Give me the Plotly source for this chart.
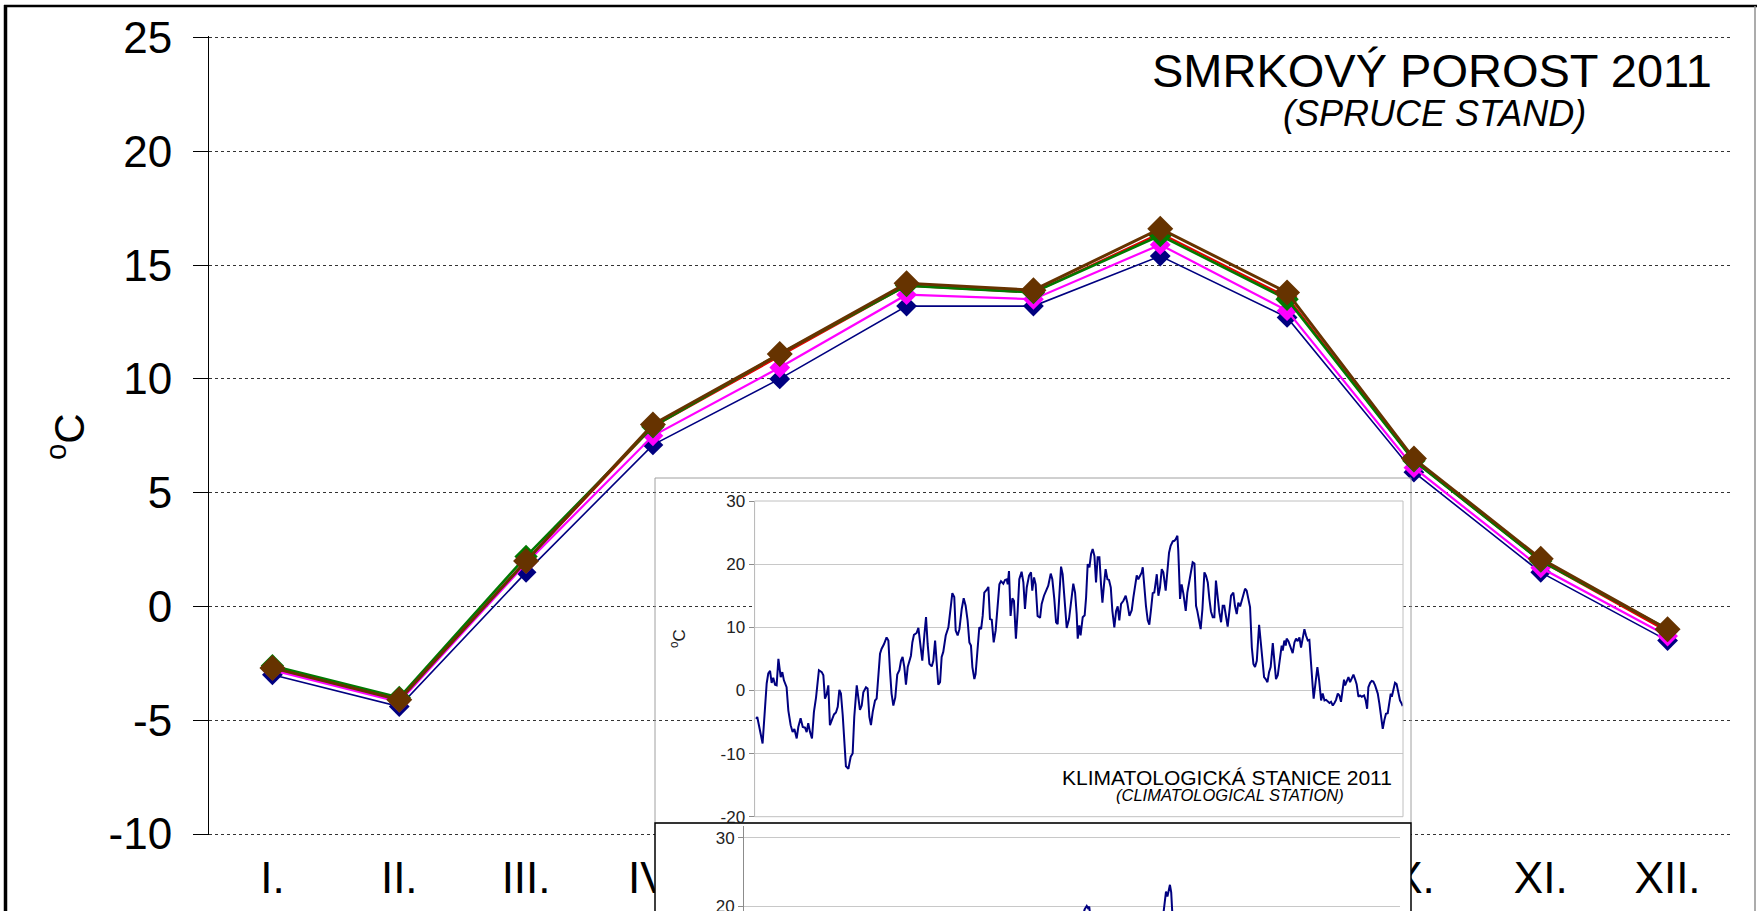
import plotly.graph_objects as go

W, H = 1757, 911

# ---------------- data ----------------
months = ["I.", "II.", "III.", "IV.", "V.", "VI.", "VII.", "VIII.", "IX.", "X.", "XI.", "XII."]

temp_navy = [-3.0, -4.4, 1.5, 7.1, 10.0, 13.2, 13.2, 15.4, 12.7, 5.9, 1.5, -1.5]
temp_magenta = [-2.8, -4.2, 1.9, 7.5, 10.5, 13.7, 13.5, 15.9, 13.0, 6.1, 1.7, -1.3]
temp_red = [-2.7, -4.1, 2.0, 7.9, 11.0, 14.1, 13.8, 16.4, 13.6, 6.4, 2.0, -1.1]
temp_green = [-2.6, -4.0, 2.2, 7.9, 11.1, 14.1, 13.8, 16.3, 13.5, 6.4, 2.0, -1.0]
temp_brown = [-2.7, -4.1, 2.0, 8.0, 11.1, 14.2, 13.9, 16.6, 13.8, 6.5, 2.1, -1.0]

main_ticks = [-10, -5, 0, 5, 10, 15, 20, 25]
main_tick_text = ["-10", "-5", "0", "5", "10", "15", "20", "25"]
inset_ticks = [-20, -10, 0, 10, 20, 30]
inset_tick_text = ["-20", "-10", "0", "10", "20", "30"]

# climatological station, daily means (vertices)
clim_day = [
    1.3, 2.0, 3.5, 5.0, 6.4, 7.3, 8.2, 9.2, 10.1, 11.0, 12.0, 12.9, 13.9, 15.2, 16.1, 17.0,
    18.5, 19.5, 20.8, 21.9, 22.9, 24.2, 25.1, 26.4, 27.6, 28.9, 29.8, 30.7, 31.7, 32.8, 33.9,
    35.1, 36.7, 38.3, 39.2, 40.1, 41.1, 42.0, 42.9, 44.3, 45.2, 46.3, 47.3, 48.2, 49.1, 50.1,
    51.0, 51.9, 53.3, 54.6, 55.7, 56.6, 58.0, 58.9, 59.8, 60.8, 61.7, 63.2, 64.1, 65.1, 66.0,
    67.0, 68.3, 69.2, 70.1, 71.1, 72.0, 73.3, 74.8, 75.8, 76.7, 77.6, 78.6, 79.7, 80.8, 82.0,
    82.9, 83.8, 84.8, 85.7, 86.7, 87.6, 88.5, 89.3, 90.2, 91.7, 92.7,
    94.0, 94.9, 96.1, 97.0, 97.9, 98.9, 100.2, 101.1, 102.1, 103.0, 103.9, 104.9, 105.8, 106.7,
    108.1, 109.6, 110.9, 111.8, 112.9, 113.7, 114.8, 115.8, 117.1, 118.2, 119.3, 120.4, 121.4,
    122.3, 123.1, 124.2, 124.9, 126.1, 127.0, 128.0, 128.9, 129.8, 131.1, 132.1, 133.0, 134.0,
    135.1, 136.2, 137.3, 138.3, 139.2, 140.5, 141.5, 142.4, 143.0, 143.7, 144.6, 145.6, 146.5,
    147.6, 148.6, 149.5, 150.8, 151.8, 152.7, 153.7, 155.0, 156.1, 156.8, 157.8, 158.7, 159.8,
    161.2, 162.1, 163.4, 164.5, 165.8, 167.2, 168.1, 169.2, 170.2, 171.1, 172.0, 173.0, 173.9,
    174.9, 176.2, 177.5, 178.6, 179.9, 180.9, 181.8, 182.4, 183.3, 184.0,
    185.2, 186.3, 187.1, 188.0, 189.0, 189.9, 190.8, 191.8, 192.7, 193.6, 194.6, 195.5, 196.3,
    197.2, 198.1, 199.1, 200.0, 201.0, 201.9, 203.0, 204.0, 204.9, 205.8, 206.8, 208.1, 209.4,
    210.3, 211.5, 212.8, 213.7, 214.7, 215.6, 216.5, 217.5, 218.4, 219.0, 219.9, 220.8, 221.8,
    222.7, 223.7, 224.6, 225.5, 226.9, 227.8, 228.7, 229.7, 230.6, 231.9, 232.9, 233.8, 234.7,
    235.9, 236.8, 237.5, 238.5, 239.0, 240.0, 240.9, 241.9, 243.2, 244.1, 245.6, 247.1, 248.1,
    249.0, 249.7, 250.7, 251.6, 252.6, 253.7, 254.6, 255.6, 256.5, 257.4, 258.4, 259.3, 260.2,
    261.2, 262.1, 263.1, 264.0, 264.9, 265.9, 266.8, 267.8, 268.7, 270.0, 270.9, 271.9, 272.8,
    273.8, 274.7, 275.6, 276.6,
    277.5, 278.9, 279.4, 280.4, 281.3, 282.2, 283.2, 284.5, 285.4, 286.4, 287.3, 288.2, 289.2,
    290.1, 291.0, 292.2, 293.1, 294.0, 295.0, 295.9, 297.2, 297.8, 298.7, 299.5, 300.0, 301.0,
    302.3, 303.4, 304.4, 305.3, 306.2, 307.2, 308.1, 309.1, 310.0, 310.9, 311.9, 312.8, 313.7,
    314.7, 315.2, 316.4, 317.3, 318.3, 319.4, 320.3, 321.3, 322.2, 323.1, 324.1, 325.0, 326.0,
    326.9, 327.8, 328.8, 329.7, 330.6, 331.6, 332.3, 332.9, 333.8, 334.8, 335.7, 336.6, 337.6,
    338.5, 339.4, 340.4, 341.3, 342.3, 343.6, 344.5, 345.3, 346.0, 347.0, 347.9, 348.8, 349.8,
    351.3, 352.2, 353.1, 354.1, 355.0, 355.9, 356.9, 357.8, 358.6, 359.2, 360.1, 361.0, 361.9,
    362.9, 363.8, 364.8, 365.3,
]
clim_temp = [
    -4.5, -4.2, -6.3, -8.4, -2.6, 1.1, 2.7, 3.1, 1.2, 2.0, 0.9, 0.8, 5.0, 2.1, 2.9, 1.6,
    0.5, -3.2, -5.5, -6.6, -6.1, -7.6, -5.8, -4.4, -5.8, -5.9, -6.6, -5.2, -6.6, -7.6, -3.4,
    -1.1, 3.2, 2.9, 2.4, -1.3, -0.6, 0.8, -5.5, -4.5, -3.8, -3.5, -2.6, 0.1, -0.5, -3.9,
    -7.9, -12.0, -12.4, -10.5, -10.0, -4.2, 0.8, -1.3, -3.1, -2.4, -0.3, 0.5, 0.3, -4.2, -5.5,
    -3.4, -1.6, -1.3, 2.1, 5.8, 6.6, 7.3, 8.4, 7.9, 3.2, -0.5, -2.4, -1.1, 2.5, 3.2,
    4.7, 5.3, 3.7, 0.9, 3.7, 4.5, 5.5, 7.6, 8.8, 9.1, 9.9,
    6.8, 4.7, 8.9, 11.6, 7.4, 4.2, 3.8, 4.7, 7.9, 3.7, 0.9, 1.3, 5.3, 6.1,
    8.7, 10.0, 13.7, 15.4, 14.8, 9.5, 8.7, 9.7, 12.9, 14.6, 13.4, 11.1, 7.6,
    7.1, 3.7, 1.8, 2.6, 6.6, 10.0, 9.7, 11.8, 15.5, 15.9, 16.4, 11.3, 11.2,
    7.6, 9.5, 13.9, 16.8, 17.3, 16.9, 17.5, 17.6, 16.8, 18.9, 11.8, 14.6, 14.2,
    8.2, 12.6, 17.6, 18.8, 17.1, 12.9, 16.3, 18.2, 18.7, 15.8, 17.9, 16.8, 11.8,
    11.5, 13.7, 15.0, 15.8, 16.6, 18.5, 17.6, 14.5, 10.8, 10.5, 15.3, 19.6, 18.4,
    13.9, 9.9, 11.3, 14.2, 16.9, 15.5, 12.1, 8.2, 10.3, 8.7,
    11.6, 11.9, 14.7, 20.0, 19.5, 21.6, 22.4, 21.3, 17.1, 21.1, 21.1, 16.8, 13.9,
    16.8, 19.2, 17.6, 17.5, 16.3, 12.6, 10.0, 12.6, 13.3, 11.1, 13.7, 14.2, 15.0,
    13.9, 11.8, 12.7, 14.7, 16.6, 18.2, 17.6, 18.3, 18.7, 19.5, 15.8, 13.4, 11.1,
    10.4, 12.9, 15.4, 15.5, 18.4, 15.0, 16.3, 19.2, 18.7, 15.8, 18.4, 21.8, 22.9,
    23.6, 23.7, 23.9, 24.5, 22.1, 14.5, 16.8, 15.3, 12.6, 15.5, 17.9, 20.3, 20.1,
    13.4, 12.6, 11.1, 9.7, 12.9, 18.7, 18.2, 17.1, 14.5, 12.5, 11.6, 11.6, 17.4,
    14.7, 12.4, 10.8, 13.4, 13.4, 11.6, 10.1, 12.6, 15.0, 15.5, 13.4, 12.1, 13.9,
    13.3, 14.2, 15.0, 16.1,
    15.8, 13.4, 13.2, 6.8, 4.2, 3.7, 4.7, 10.4, 7.4, 3.7, 2.1, 1.8, 1.3,
    2.9, 3.7, 7.5, 4.2, 1.8, 2.4, 4.7, 7.1, 6.3, 7.9, 7.1, 8.2, 7.8,
    6.6, 5.9, 7.6, 8.2, 7.8, 8.4, 6.8, 8.7, 9.7, 8.7, 7.9, 8.0, 3.7,
    0.5, -1.3, 2.1, 3.7, 1.6, -1.6, -0.5, -1.6, -1.5, -1.8, -2.0, -1.8, -2.4,
    -2.0, -1.5, -0.5, -0.8, -1.8, 0.3, 1.7, 0.8, 1.6, 2.1, 1.3, 1.8, 2.5,
    1.8, 1.0, -1.0, -0.8, -1.0, -0.8, -1.6, -2.9, 0.5, 1.2, 1.5, 1.4, 0.8,
    -0.5, -2.1, -3.9, -6.1, -4.7, -3.7, -3.6, -1.8, -0.5, -1.0, 0.3, 1.2, 1.0,
    -0.3, -1.6, -2.1, -2.5,
]

# second station (lower inset): only the parts that rise into view
lower_day = [186.0, 188.5, 190.0, 191.2, 191.9, 192.6, 194.0, 230.0, 233.9, 235.3, 236.1, 237.5, 238.2, 238.9, 242.0]
lower_temp = [15.0, 18.0, 19.5, 20.0, 19.7, 19.9, 16.5, 15.0, 19.0, 22.1, 21.4, 23.1, 22.0, 18.5, 14.0]


# ---------------- helpers (layout only) ----------------
def fx(px):
    return px / W


def fy(py):
    return 1 - py / H


FONT = "Liberation Sans, Arial, sans-serif"

fig = go.Figure()

main_series = [
    ("navy", temp_navy, "#000080", 1.6, 16),
    ("magenta", temp_magenta, "#FF00FF", 2.2, 16),
    ("red", temp_red, "#E00000", 2.2, 16),
    ("green", temp_green, "#007A00", 2.6, 18),
    ("brown", temp_brown, "#663300", 3.0, 20),
]
for name, vals, color, lw, ms in main_series:
    fig.add_trace(go.Scatter(
        x=months, y=vals, name=name, mode="lines+markers",
        line=dict(color=color, width=lw),
        marker=dict(symbol="diamond", size=ms, color=color),
        xaxis="x", yaxis="y", showlegend=False, cliponaxis=False,
    ))

fig.add_trace(go.Scatter(
    x=clim_day, y=clim_temp, mode="lines", line=dict(color="#000080", width=2),
    xaxis="x3", yaxis="y3", showlegend=False,
))
fig.add_trace(go.Scatter(x=[], y=[], xaxis="x5", yaxis="y5", showlegend=False))
fig.add_trace(go.Scatter(
    x=lower_day, y=lower_temp, mode="lines", line=dict(color="#000080", width=2),
    xaxis="x6", yaxis="y6", showlegend=False,
))

# main plot geometry
main_dom_x = [fx(209), fx(1731)]
main_dom_y = [fy(835.4), fy(36.2)]
yr = [-10.06, 25.06]
zero_pos = main_dom_y[0] + (0 - yr[0]) / (yr[1] - yr[0]) * (main_dom_y[1] - main_dom_y[0])

# upper inset geometry
in_dom_x = [fx(754.6), fx(1403)]
in_dom_y = [fy(816.7), fy(501)]
in_yr = [-20, 30]
in_zero = in_dom_y[0] + (0 - in_yr[0]) / (in_yr[1] - in_yr[0]) * (in_dom_y[1] - in_dom_y[0])

hidden = dict(showline=False, showticklabels=False, ticks="", showgrid=False, zeroline=False,
              automargin=False)

fig.update_layout(
    template="none",
    width=W, height=H, autosize=False,
    margin=dict(l=0, r=0, t=0, b=0, pad=0),
    paper_bgcolor="white", plot_bgcolor="white",
    font=dict(family=FONT, color="black"),
    showlegend=False,
    xaxis=dict(
        domain=main_dom_x, anchor="y", type="category",
        categoryorder="array", categoryarray=months, range=[-0.5, 11.5],
        showline=False, ticks="", showgrid=False, zeroline=False, automargin=False,
        tickfont=dict(size=44, color="black"), ticklabelstandoff=13,
    ),
    xaxis2=dict(
        overlaying="x", anchor="free", position=zero_pos, type="linear",
        range=[-0.5, 11.5], tickmode="linear", tick0=0.5, dtick=1,
        ticks="outside", ticklen=12, tickwidth=2, tickcolor="#7F7F7F",
        showline=True, linecolor="#7F7F7F", linewidth=2, automargin=False,
        showticklabels=False, showgrid=False, zeroline=False,
    ),
    yaxis=dict(
        domain=main_dom_y, anchor="x", range=yr,
        tickmode="array", tickvals=main_ticks, ticktext=main_tick_text,
        showgrid=True, gridcolor="#333333", griddash="dot", gridwidth=1,
        showline=True, linecolor="black", linewidth=1, automargin=False,
        ticks="outside", ticklen=15, tickcolor="black", tickwidth=1,
        tickfont=dict(size=44, color="black"), zeroline=False, ticklabelstandoff=12,
    ),
    xaxis3=dict(domain=in_dom_x, anchor="y3", range=[0.5, 365.5], **hidden),
    yaxis3=dict(
        domain=in_dom_y, anchor="x3", range=in_yr,
        tickmode="array", tickvals=inset_ticks, ticktext=inset_tick_text,
        showgrid=True, gridcolor="#C8C8C8", gridwidth=1, automargin=False,
        showline=True, linecolor="#8C8C8C", linewidth=1,
        ticks="outside", ticklen=5, tickcolor="#8C8C8C",
        tickfont=dict(size=17, color="#222222"), zeroline=False,
    ),
    xaxis4=dict(
        overlaying="x3", anchor="free", position=in_zero, type="linear",
        range=[0.5, 365.5], tickmode="linear", tick0=0.5, dtick=20,
        ticks="outside", ticklen=5, tickcolor="#7F7F7F", tickwidth=1,
        showline=True, linecolor="#7F7F7F", linewidth=1.5, automargin=False,
        showticklabels=False, showgrid=False, zeroline=False,
    ),
    xaxis5=dict(domain=[fx(655), fx(1411)], anchor="y5", range=[0, 1], **hidden),
    yaxis5=dict(domain=[0, fy(823)], anchor="x5", range=[0, 1], **hidden),
    xaxis6=dict(domain=[fx(744), fx(1400)], anchor="y6", range=[0.5, 365.5], **hidden),
    yaxis6=dict(
        domain=[0, fy(826)], anchor="x6", range=[19.27, 31.71],
        tickmode="array", tickvals=[20, 30], ticktext=["20", "30"],
        showgrid=True, gridcolor="#C8C8C8", gridwidth=1, automargin=False,
        showline=True, linecolor="#8C8C8C", linewidth=1,
        ticks="outside", ticklen=5, tickcolor="#8C8C8C", ticklabeloverflow="allow",
        tickfont=dict(size=17, color="#222222"), zeroline=False,
    ),
)

shapes = [
    # outer frame
    dict(type="line", xref="paper", yref="paper", x0=fx(5.5), x1=fx(5.5), y0=fy(5), y1=fy(915),
         line=dict(color="black", width=3.5), layer="above"),
    dict(type="line", xref="paper", yref="paper", x0=fx(4), x1=fx(1757), y0=fy(6), y1=fy(6),
         line=dict(color="black", width=2.5), layer="above"),
    dict(type="line", xref="paper", yref="paper", x0=fx(1755), x1=fx(1755), y0=fy(6), y1=fy(915),
         line=dict(color="#909090", width=1.5), layer="above"),
    # upper inset box and its plot frame
    dict(type="rect", xref="paper", yref="paper", x0=fx(655), x1=fx(1411), y0=fy(823), y1=fy(478),
         line=dict(color="#A0A0A0", width=1), fillcolor="rgba(0,0,0,0)", layer="above"),
    dict(type="rect", xref="paper", yref="paper", x0=in_dom_x[0], x1=in_dom_x[1], y0=in_dom_y[0], y1=in_dom_y[1],
         line=dict(color="#C0C0C0", width=1), fillcolor="rgba(0,0,0,0)", layer="above"),
    # lower inset box
    dict(type="rect", xref="paper", yref="paper", x0=fx(655), x1=fx(1411), y0=fy(935), y1=fy(823),
         line=dict(color="black", width=1.5), fillcolor="rgba(0,0,0,0)", layer="above"),
]
fig.update_layout(shapes=shapes)

annotations = [
    dict(text="SMRKOVÝ POROST 2011", x=fx(1714), y=fy(70), xanchor="right", yanchor="middle",
         font=dict(size=47, color="black", family=FONT)),
    dict(text="<i>(SPRUCE STAND)</i>", x=fx(1434), y=fy(113), xanchor="center", yanchor="middle",
         font=dict(size=36, color="black", family=FONT)),
    dict(text="<sup>o</sup>C", x=fx(66), y=fy(437), xanchor="center", yanchor="middle", textangle=-90,
         font=dict(size=42, color="black", family=FONT)),
    dict(text="<sup>o</sup>C", x=fx(678), y=fy(639), xanchor="center", yanchor="middle", textangle=-90,
         font=dict(size=17, color="#222222", family=FONT)),
    dict(text="KLIMATOLOGICKÁ STANICE 2011", x=fx(1394), y=fy(777), xanchor="right", yanchor="middle",
         font=dict(size=21, color="black", family=FONT)),
    dict(text="<i>(CLIMATOLOGICAL STATION)</i>", x=fx(1230), y=fy(795), xanchor="center", yanchor="middle",
         font=dict(size=16.5, color="black", family=FONT)),
]
for a in annotations:
    a.update(xref="paper", yref="paper", showarrow=False)
fig.update_layout(annotations=annotations)

# pin the graph to the page's top-left corner so the page is exactly the figure's size
pin_graph = (
    "document.body.style.margin='0';"
    "var g=document.getElementById('{plot_id}');"
    "g.style.position='absolute';g.style.left='0px';g.style.top='0px';"
)

fig.write_html("out.html", post_script=pin_graph, config={"displayModeBar": False})
